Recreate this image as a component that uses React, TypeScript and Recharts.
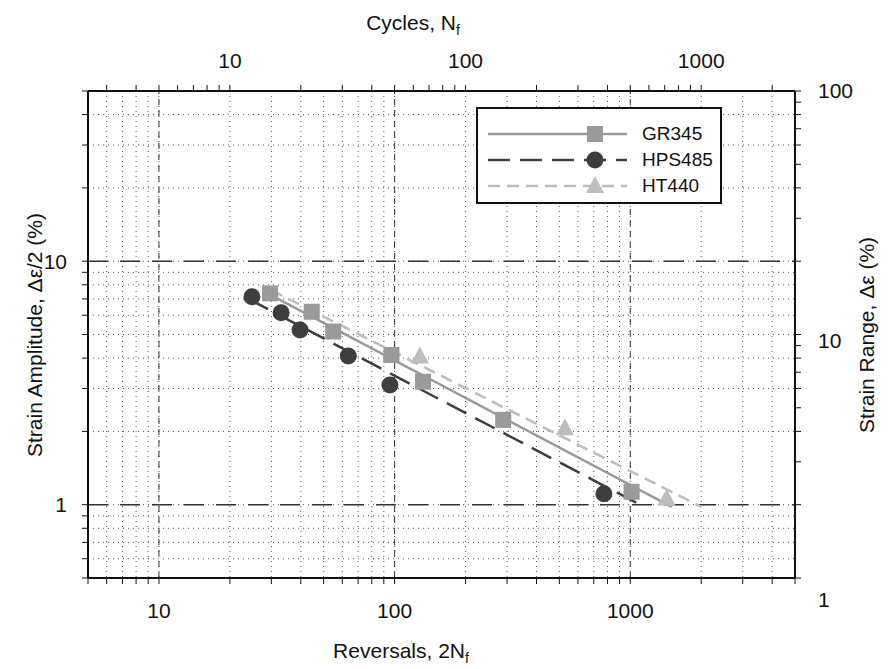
import { ScatterChart, Scatter, XAxis, YAxis, CartesianGrid, ReferenceLine, Label } from 'recharts'

const reversalTicks = [5, 6, 7, 8, 9, 10, 20, 30, 40, 50, 60, 70, 80, 90, 100, 200, 300, 400, 500, 600, 700, 800, 900, 1000, 2000, 3000, 4000, 5000]
const cycleTicks = [3, 4, 5, 6, 7, 8, 9, 10, 20, 30, 40, 50, 60, 70, 80, 90, 100, 200, 300, 400, 500, 600, 700, 800, 900, 1000, 2000]
const amplitudeTicks = [0.5, 0.6, 0.7, 0.8, 0.9, 1, 2, 3, 4, 5, 6, 7, 8, 9, 10, 20, 30, 40, 50]
const rangeTicks = [1, 2, 3, 4, 5, 6, 7, 8, 9, 10, 20, 30, 40, 50, 60, 70, 80, 90, 100]
const labelledTicks = [1, 10, 100, 1000]
const majorReversals = [10, 100, 1000]
const majorAmplitudes = [1, 10]

// test points: reversals to failure vs strain amplitude (%)
const gr345Reversals = [29.6, 44.5, 54.9, 97, 132, 289, 1013]
const gr345Amplitude = [7.38, 6.2, 5.14, 4.12, 3.2, 2.23, 1.13]
const hps485Reversals = [24.8, 33, 39.7, 63.6, 95.5, 773]
const hps485Amplitude = [7.15, 6.14, 5.22, 4.08, 3.1, 1.11]
const ht440Reversals = [128, 528, 1426]
const ht440Amplitude = [4.06, 2.06, 1.06]

// fitted strain-life lines (end points)
const gr345FitReversals = [28, 1500]
const gr345FitAmplitude = [7.5, 0.98]
const hps485FitReversals = [24, 1100]
const hps485FitAmplitude = [7.0, 1.0]
const ht440FitReversals = [30, 2000]
const ht440FitAmplitude = [7.6, 0.98]

const zip = (xs: number[], ys: number[]) => xs.map((x, i) => ({ x, y: ys[i] }))

const FONT = '"Liberation Sans", Arial, sans-serif'
const tickFmt = (v: number) => (labelledTicks.includes(v) ? String(v) : '')
const tickStyle = { fill: '#111', fontSize: 21, fontFamily: FONT }
const axisLine = { stroke: '#111', strokeWidth: 2 }

const C_GR = '#9a9a9a'
const C_HPS = '#3e3e3e'
const C_HT = '#bdbdbd'

const SquareMark = (p: any) => <rect x={p.cx - 8} y={p.cy - 8} width={16} height={16} fill={C_GR} />
const CircleMark = (p: any) => <circle cx={p.cx} cy={p.cy} r={8.5} fill={C_HPS} />
const TriMark = (p: any) => (
  <polygon points={`${p.cx},${p.cy - 10} ${p.cx + 9},${p.cy + 7} ${p.cx - 9},${p.cy + 7}`} fill={C_HT} />
)
const NoMark = () => <g />

// the scanned right-hand labels sit a little below their ticks
const rightLabelShift: Record<number, number> = { 1: 22, 10: 6, 100: 0 }
const RightTick = (p: any) => {
  const v = p.payload.value
  if (!labelledTicks.includes(v)) return <g />
  return (
    <text x={p.x} y={p.y + (rightLabelShift[v] || 0)} dy="0.355em" textAnchor="start" fontSize={21} fill="#111">
      {v}
    </text>
  )
}

const legendRows = [
  { name: 'GR345', color: C_GR, dash: undefined, mark: 'square' },
  { name: 'HPS485', color: C_HPS, dash: '22 10', mark: 'circle' },
  { name: 'HT440', color: C_HT, dash: '12 7', mark: 'tri' },
]

function ChartLegend() {
  return (
    <div style={{
      position: 'absolute', left: 476, top: 107, width: 246, height: 97,
      border: '2px solid #111', background: '#fff', boxSizing: 'border-box',
    }}>
      {legendRows.map((r, i) => (
        <div key={r.name} style={{ position: 'absolute', left: 0, top: 12 + i * 26, height: 26, display: 'flex', alignItems: 'center' }}>
          <svg width={148} height={20} style={{ marginLeft: 8 }}>
            <line x1={2} y1={10} x2={141} y2={10} stroke={r.color} strokeWidth={2.5} strokeDasharray={r.dash} />
            {r.mark === 'square' && <rect x={101} y={2} width={16} height={16} fill={r.color} />}
            {r.mark === 'circle' && <circle cx={109} cy={10} r={8.5} fill={r.color} />}
            {r.mark === 'tri' && <polygon points="109,0 118,17 100,17" fill={r.color} />}
          </svg>
          <span style={{ fontSize: 19, color: '#111', marginLeft: 8 }}>{r.name}</span>
        </div>
      ))}
    </div>
  )
}

export default function App() {
  return (
    <div style={{ position: 'absolute', left: 0, top: 0, width: 891, height: 669, background: '#fff', fontFamily: FONT }}>
      <ScatterChart width={891} height={669} margin={{ top: 0, right: 0, bottom: 0, left: 0 }}>
        <CartesianGrid stroke="#555" strokeDasharray="1 4" />
        <XAxis type="number" dataKey="x" scale="log" domain={[5, 5000]} allowDataOverflow ticks={reversalTicks}
          interval={0} tickFormatter={tickFmt} tick={tickStyle} tickSize={6} tickMargin={19} height={91}
          axisLine={axisLine} tickLine={{ stroke: '#111' }}>
          <Label content={() => (
            <text x={401} y={658} textAnchor="middle" fontSize={21} fill="#111">
              Reversals, 2N<tspan fontSize={14} dy={5}>f</tspan>
            </text>
          )} />
        </XAxis>
        <XAxis xAxisId="top" orientation="top" type="number" dataKey="x" scale="log" domain={[2.5, 2500]} allowDataOverflow
          ticks={cycleTicks} interval={0} tickFormatter={tickFmt} tick={tickStyle} tickSize={6} tickMargin={17} height={91}
          axisLine={axisLine} tickLine={{ stroke: '#111' }}>
          <Label content={() => (
            <text x={413} y={30} textAnchor="middle" fontSize={21} fill="#111">
              Cycles, N<tspan fontSize={14} dy={5}>f</tspan>
            </text>
          )} />
        </XAxis>
        <YAxis type="number" dataKey="y" scale="log" domain={[0.5, 50]} allowDataOverflow ticks={amplitudeTicks}
          interval={0} tickFormatter={tickFmt} tick={tickStyle} tickSize={6} tickMargin={15} width={88}
          axisLine={axisLine} tickLine={{ stroke: '#111' }}>
          <Label content={() => (
            <text x={36} y={335} textAnchor="middle" fontSize={21} fill="#111" transform="rotate(-90 36 335)" dominantBaseline="middle">
              Strain Amplitude, Δε/2 (%)
            </text>
          )} />
        </YAxis>
        <YAxis yAxisId="right" orientation="right" type="number" dataKey="y" scale="log" domain={[1, 100]} allowDataOverflow
          ticks={rangeTicks} interval={0} tick={RightTick} tickSize={6} tickMargin={17} width={96}
          axisLine={axisLine} tickLine={{ stroke: '#111' }}>
          <Label content={() => (
            <text x={868} y={335} textAnchor="middle" fontSize={21} fill="#111" transform="rotate(-90 868 335)" dominantBaseline="middle">
              Strain Range, Δε (%)
            </text>
          )} />
        </YAxis>

        {majorReversals.map(v => (
          <ReferenceLine key={'x' + v} x={v} stroke="#333" strokeDasharray="6 5" strokeWidth={1} />
        ))}
        {majorAmplitudes.map(v => (
          <ReferenceLine key={'y' + v} y={v} stroke="#333" strokeDasharray="20 12" strokeWidth={1.6} />
        ))}

        <Scatter name="GR345 fit" data={zip(gr345FitReversals, gr345FitAmplitude)} shape={NoMark}
          line={{ stroke: C_GR, strokeWidth: 2.5 }} isAnimationActive={false} />
        <Scatter name="HPS485 fit" data={zip(hps485FitReversals, hps485FitAmplitude)} shape={NoMark}
          line={{ stroke: C_HPS, strokeWidth: 2.5, strokeDasharray: '22 10' }} isAnimationActive={false} />
        <Scatter name="HT440 fit" data={zip(ht440FitReversals, ht440FitAmplitude)} shape={NoMark}
          line={{ stroke: C_HT, strokeWidth: 2.5, strokeDasharray: '12 7' }} isAnimationActive={false} />

        <Scatter name="GR345" data={zip(gr345Reversals, gr345Amplitude)} shape={SquareMark} isAnimationActive={false} />
        <Scatter name="HPS485" data={zip(hps485Reversals, hps485Amplitude)} shape={CircleMark} isAnimationActive={false} />
        <Scatter name="HT440" data={zip(ht440Reversals, ht440Amplitude)} shape={TriMark} isAnimationActive={false} />
      </ScatterChart>
      <ChartLegend />
    </div>
  )
}
